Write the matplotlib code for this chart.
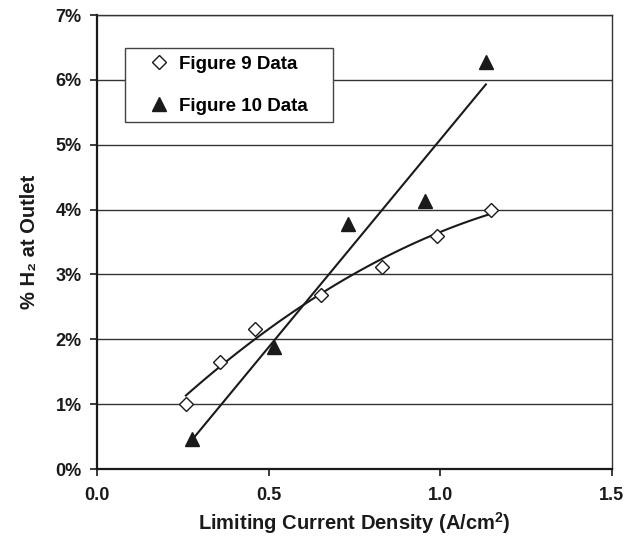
import numpy as np
import matplotlib
matplotlib.use("Agg")
import matplotlib.pyplot as plt
from matplotlib.ticker import FuncFormatter, MultipleLocator

# Limiting current density (A/cm^2) vs % H2 at outlet, two data sets
fig9_x = [0.259, 0.358, 0.460, 0.652, 0.829, 0.992, 1.147]
fig9_y = [1.00, 1.65, 2.16, 2.69, 3.12, 3.60, 4.00]

fig10_x = [0.278, 0.516, 0.732, 0.957, 1.133]
fig10_y = [0.47, 1.88, 3.78, 4.13, 6.27]

plt.rcParams["font.family"] = ["Liberation Sans", "DejaVu Sans"]
plt.rcParams["font.weight"] = "bold"
plt.rcParams["mathtext.fontset"] = "custom"
plt.rcParams["mathtext.bf"] = "Liberation Sans:bold"
plt.rcParams["mathtext.rm"] = "Liberation Sans:bold"

INK = "#1a1a1a"

fig = plt.figure(figsize=(6.38, 5.36), dpi=100)
ax = fig.add_axes([0.152, 0.125, 0.807, 0.847])

# trend lines: quadratic through the Figure 9 points, linear through Figure 10
c9 = np.polyfit(fig9_x, fig9_y, 2)
xs9 = np.linspace(min(fig9_x), max(fig9_x), 100)
ax.plot(xs9, np.polyval(c9, xs9), color=INK, lw=1.5, zorder=3)

c10 = np.polyfit(fig10_x, fig10_y, 1)
xs10 = np.array([min(fig10_x), max(fig10_x)])
ax.plot(xs10, np.polyval(c10, xs10), color=INK, lw=1.5, zorder=3)

ax.plot(fig9_x, fig9_y, "D", ms=7, mfc="white", mec=INK, mew=1.0,
        zorder=4, label="Figure 9 Data")
ax.plot(fig10_x, fig10_y, "^", ms=9.5, mfc=INK, mec=INK,
        zorder=4, label="Figure 10 Data")

ax.set_xlim(0, 1.5)
ax.set_ylim(0, 7)
ax.xaxis.set_major_locator(MultipleLocator(0.5))
ax.yaxis.set_major_locator(MultipleLocator(1))
ax.xaxis.set_major_formatter(FuncFormatter(lambda v, p: "%.1f" % v))
ax.yaxis.set_major_formatter(FuncFormatter(lambda v, p: "%d%%" % round(v)))
ax.tick_params(direction="out", length=5, width=1.2, colors=INK,
               labelsize=13)
ax.tick_params(axis="x", pad=8)
ax.tick_params(axis="y", pad=6)

ax.grid(True, axis="y", color="#333333", linewidth=1.0)
ax.set_axisbelow(True)
for side in ["left", "bottom"]:
    ax.spines[side].set_linewidth(1.6)
    ax.spines[side].set_color(INK)
for side in ["top", "right"]:
    ax.spines[side].set_linewidth(1.0)
    ax.spines[side].set_color("#333333")

ax.set_xlabel(r"Limiting Current Density (A/cm$^\mathbf{2}$)", fontsize=14.5,
              fontweight="bold", labelpad=4.5, color=INK)
ax.set_ylabel("% H₂ at Outlet", fontsize=14.5, fontweight="bold",
              labelpad=12, color=INK)

leg = ax.legend(loc="upper left", bbox_to_anchor=(0.054, 0.6, 0.404, 0.327),
                mode="expand", borderaxespad=0, fancybox=False, framealpha=1,
                edgecolor="#444444", handlelength=2.83,
                handletextpad=-0.35, labelspacing=1.32, borderpad=0.4,
                prop={"weight": "bold", "size": 13.5})
leg.get_frame().set_linewidth(1.0)

fig.savefig("out.png", dpi=100)
